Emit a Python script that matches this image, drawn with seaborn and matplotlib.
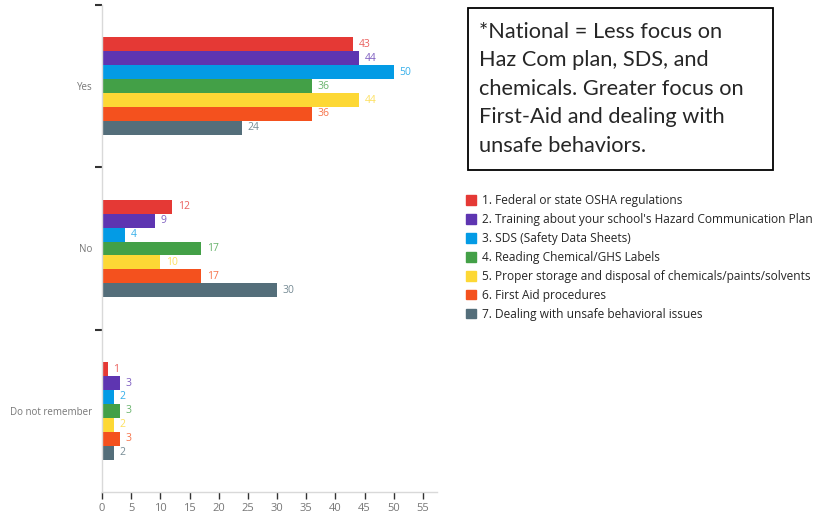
import matplotlib
matplotlib.use("Agg")
import matplotlib.pyplot as plt
import seaborn as sns
import pandas as pd
import numpy as np

answers = ["Yes", "No", "Do not remember"]
topics = [
    "1. Federal or state OSHA regulations",
    "2. Training about your school's Hazard Communication Plan",
    "3. SDS (Safety Data Sheets)",
    "4. Reading Chemical/GHS Labels",
    "5. Proper storage and disposal of chemicals/paints/solvents",
    "6. First Aid procedures",
    "7. Dealing with unsafe behavioral issues",
]
yes_vals = [43, 44, 50, 36, 44, 36, 24]
no_vals = [12, 9, 4, 17, 10, 17, 30]
dnr_vals = [1, 3, 2, 3, 2, 3, 2]
colors = ["#E53935", "#5E35B1", "#039BE5", "#43A047", "#FDD835", "#F4511E", "#546E7A"]
x_ticks = list(range(0, 60, 5))
note = ("*National = Less focus on\nHaz Com plan, SDS, and\nchemicals. Greater focus on\n"
        "First-Aid and dealing with\nunsafe behaviors.")

rows = []
for ans, vals in zip(answers, [yes_vals, no_vals, dnr_vals]):
    for t, v in zip(topics, vals):
        rows.append({"answer": ans, "topic": t, "value": v})
df = pd.DataFrame(rows)

sns.set_style("white")
plt.rcParams["font.family"] = ["Open Sans", "DejaVu Sans"]

W, H = 817, 515
fig = plt.figure(figsize=(W / 100, H / 100), dpi=100)
ax = fig.add_axes([102 / W, 1 - 492 / H, (437 - 102) / W, (492 - 5) / H])

sns.barplot(data=df, x="value", y="answer", hue="topic", order=answers,
            hue_order=topics, palette=colors, orient="h", width=0.6,
            saturation=1, ax=ax, legend=False, linewidth=0, gap=0)

for cont, col in zip(ax.containers, colors):
    ax.bar_label(cont, padding=4, color=col, fontsize=7.5, alpha=0.8)

ax.set_xlim(0, 57.4)
ax.set_ylim(2.5, -0.5)
ax.set_xticks(x_ticks)
ax.set_xlabel("")
ax.set_ylabel("")
ax.tick_params(axis="x", direction="out", length=5, width=1, color="#333333",
               labelsize=8, labelcolor="#777777", pad=3, bottom=True)
ax.tick_params(axis="y", which="major", length=0, labelsize=7, labelcolor="#777777", pad=7)
ax.set_yticks([-0.5, 0.5, 1.5], minor=True)
ax.tick_params(axis="y", which="minor", direction="out", length=5, width=1.5,
               color="#333333", left=True)
for s in ["top", "right"]:
    ax.spines[s].set_visible(False)
for s in ["left", "bottom"]:
    ax.spines[s].set_color("#d9d9d9")
    ax.spines[s].set_linewidth(1)

# legend
handles = [plt.Rectangle((0, 0), 1, 1, color=c) for c in colors]
fig.legend(handles, topics, loc="upper left", bbox_to_anchor=(466 / W, 1 - 194 / H),
           frameon=False, fontsize=8.6, handlelength=0.85, handleheight=0.85,
           handletextpad=0.5, labelspacing=0.5, borderpad=0, borderaxespad=0)

# note box
fig.patches.append(plt.Rectangle((468 / W, 1 - 170 / H), (773 - 468) / W, (170 - 8) / H,
                                 transform=fig.transFigure, facecolor="white",
                                 edgecolor="black", linewidth=1.3, zorder=1))
fig.text(479 / W, 1 - 22 / H, note, ha="left", va="top", fontsize=15.7,
         family=["Lato", "DejaVu Sans"], linespacing=1.53, zorder=2)

fig.savefig("out.png", dpi=100)
